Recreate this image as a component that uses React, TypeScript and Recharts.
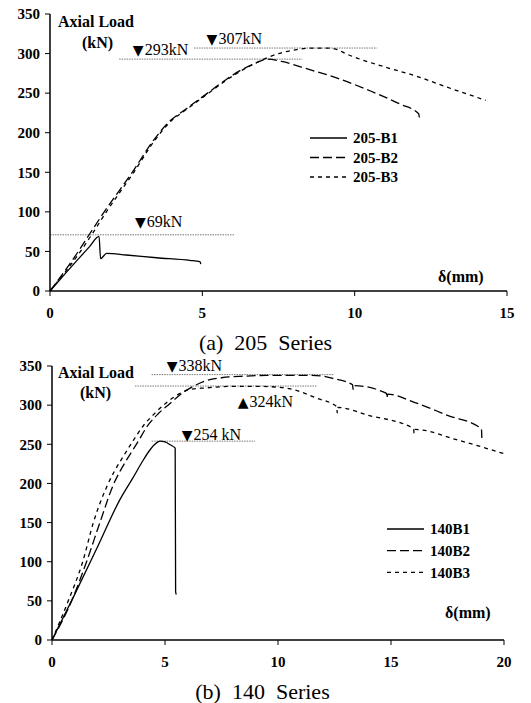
import { Legend, Line, LineChart, ReferenceDot, ReferenceLine, XAxis, YAxis } from 'recharts';

const FONT = '"Liberation Serif", "Times New Roman", serif';

const loadTicks = [0, 50, 100, 150, 200, 250, 300, 350];
const dispTicksA = [0, 5, 10, 15];
const dispTicksB = [0, 5, 10, 15, 20];

// (a) 205 series
const a1Disp = [0, 0.5, 1.0, 1.3, 1.61, 1.66, 1.86, 2.5, 3.5, 4.59, 4.92, 4.95];
const a1Load = [0, 22, 43.5, 56, 69, 41, 47.5, 45.5, 42, 38.7, 37, 34];
const a2Disp = [0, 0.93, 1.3, 1.78, 2.7, 3.41, 3.86, 4.5, 5.17, 5.7, 6.26, 6.7, 7.14, 7.6, 8.5, 9.5, 10.5, 11.5, 12.1, 12.13];
const a2Load = [0, 50, 72, 100, 150, 191, 212, 231, 250, 265, 279, 287, 293, 290, 280, 268, 253, 236, 224, 217];
const a3Disp = [0, 1.0, 1.4, 1.85, 2.75, 3.45, 3.9, 4.5, 5.17, 5.7, 6.26, 6.7, 7.14, 7.6, 8.1, 8.67, 9.1, 9.43, 9.7, 10.1, 11, 12.06, 13, 14.3];
const a3Load = [0, 50, 73, 100, 150, 191, 212, 230, 249, 264, 278, 287, 295, 301, 305, 307, 307, 305, 300, 294, 283, 271, 258, 241];

// (b) 140 series
const b1Disp = [0, 1, 2, 3, 3.6, 4.0, 4.34, 4.55, 4.78, 5.0, 5.25, 5.45, 5.47, 5.5];
const b1Load = [0, 58, 118, 179, 208, 228, 243, 250, 254, 253, 249, 245, 62, 58];
const b2Disp = [0, 0.87, 1.53, 2.12, 2.74, 3.0, 3.3, 3.8, 4.19, 4.7, 5.22, 5.7, 6.25, 6.8, 7.5, 8.5, 9.5, 10.5, 11.5, 12, 12.45, 13.3, 13.32, 13.35, 14.8, 14.82, 14.85, 16, 17.5, 19.0, 19.02];
const b2Load = [0, 50, 100, 150, 200, 215, 230, 253, 272, 289, 302, 314, 324, 331, 335, 337, 338, 338, 338, 337, 334, 326, 320, 325, 315, 309, 314, 304, 287, 270, 258];
const b3Disp = [0, 0.72, 1.36, 1.83, 2.49, 2.75, 3.1, 3.6, 4.05, 4.6, 5.1, 5.6, 6.1, 6.8, 8, 9, 10, 10.5, 11, 11.7, 12.6, 12.62, 12.65, 14, 16, 16.02, 16.05, 18, 20];
const b3Load = [0, 50, 100, 150, 200, 215, 232, 255, 274, 291, 304, 314, 320, 322, 324, 324, 323, 321, 317, 309, 298, 290, 297, 287, 270, 264, 269, 255, 238];

// peak guide lines: load, from, to
const peakLinesA = [
  { load: 293, from: 2.27, to: 8.28 },
  { load: 307, from: 4.73, to: 10.74 },
  { load: 71, from: 0, to: 6.04 },
];
const peakLinesB = [
  { load: 339, from: 4.41, to: 12.45 },
  { load: 324.4, from: 3.67, to: 11.7 },
  { load: 254, from: 4.41, to: 8.98 },
];

// peak notes: marker, text, anchor (disp, load)
const notesA = [
  { mark: '▼', text: '293kN', disp: 2.72, load: 297.6 },
  { mark: '▼', text: '307kN', disp: 5.14, load: 312 },
  { mark: '▼', text: '69kN', disp: 2.79, load: 81 },
];
const notesB = [
  { mark: '▼', text: '338kN', disp: 5.08, load: 343 },
  { mark: '▲', text: '324kN', disp: 8.22, load: 297.6 },
  { mark: '▼', text: '254 kN', disp: 5.74, load: 256 },
];

const toPts = (xs: number[], ys: number[]) => xs.map((d, i) => ({ d, load: ys[i] }));

const styles = [
  { dash: undefined as string | undefined },
  { dash: '9 4' },
  { dash: '4 4' },
];

const seriesA = [
  { name: '205-B1', data: toPts(a1Disp, a1Load) },
  { name: '205-B2', data: toPts(a2Disp, a2Load) },
  { name: '205-B3', data: toPts(a3Disp, a3Load) },
];
const seriesB = [
  { name: '140B1', data: toPts(b1Disp, b1Load) },
  { name: '140B2', data: toPts(b2Disp, b2Load) },
  { name: '140B3', data: toPts(b3Disp, b3Load) },
];

const noteLabel = (mark: string, text: string) => (props: any) => {
  const { x, y } = props.viewBox;
  return (
    <text x={x} y={y} fill="#000" fontFamily={FONT} fontSize={16}>
      <tspan fontFamily="DejaVu Sans" fontSize={14}>{mark}</tspan>
      <tspan dx={1}>{text}</tspan>
    </text>
  );
};

const legendContent = (names: string[], gap: number) => () => (
  <svg width={110} height={gap * 2 + 20}>
    {names.map((n, i) => (
      <g key={n}>
        <line x1={0} x2={37} y1={10 + i * gap} y2={10 + i * gap} stroke="#000" strokeWidth={1.3} strokeDasharray={styles[i].dash} />
        <text x={43} y={10 + i * gap} dy="0.35em" fontFamily={FONT} fontWeight="bold" fontSize={15} fill="#000">{n}</text>
      </g>
    ))}
  </svg>
);

const tickStyle = { fill: '#000', fontSize: 15, fontWeight: 'bold', fontFamily: FONT };
const axisLine = { stroke: '#000', strokeWidth: 1.5 };

const textAbs = (left: number, top: number, size: number, bold: boolean) => ({
  position: 'absolute' as const,
  left,
  top,
  fontSize: size,
  lineHeight: `${size}px`,
  fontWeight: bold ? 'bold' : 'normal',
  fontFamily: FONT,
  whiteSpace: 'pre' as const,
  color: '#000',
});

type PanelProps = {
  series: { name: string; data: { d: number; load: number }[] }[];
  ticks: number[];
  xMax: number;
  lines: { load: number; from: number; to: number }[];
  notes: { mark: string; text: string; disp: number; load: number }[];
  height: number;
  top: number;
  right: number;
  yWidth: number;
  legendPos: { left: number; top: number };
  legendGap: number;
};

function Panel({ series, ticks, xMax, lines, notes, height, top, right, yWidth, legendPos, legendGap }: PanelProps) {
  return (
    <LineChart width={531} height={height} margin={{ top, right, bottom: 0, left: 0 }}>
      <XAxis type="number" dataKey="d" domain={[0, xMax]} ticks={ticks} height={29} tickSize={5} tickMargin={11}
        tick={tickStyle} axisLine={axisLine} tickLine={{ stroke: '#000' }} />
      <YAxis type="number" dataKey="load" domain={[0, 350]} ticks={loadTicks} width={yWidth} tickSize={5} tickMargin={5}
        tick={tickStyle} axisLine={axisLine} tickLine={{ stroke: '#000' }} />
      {lines.map((l) => (
        <ReferenceLine key={l.load} segment={[{ x: l.from, y: l.load }, { x: l.to, y: l.load }]}
          stroke="#777" strokeWidth={1} strokeDasharray="1.5 1" ifOverflow="visible" />
      ))}
      {series.map((s, i) => (
        <Line key={s.name} name={s.name} data={s.data} dataKey="load" type="monotone" dot={false}
          stroke="#000" strokeWidth={1.3} strokeDasharray={styles[i].dash} isAnimationActive={false} />
      ))}
      {notes.map((n) => (
        <ReferenceDot key={n.text} x={n.disp} y={n.load} r={0} fill="none" stroke="none" ifOverflow="visible"
          label={noteLabel(n.mark, n.text)} />
      ))}
      <Legend layout="vertical" align="center" verticalAlign="middle"
        wrapperStyle={{ left: legendPos.left, top: legendPos.top, width: 'auto' }}
        content={legendContent(series.map((s) => s.name), legendGap)} />
    </LineChart>
  );
}

export default function App() {
  return (
    <div style={{ position: 'absolute', left: 0, top: 0, width: 531, height: 703, background: '#fff', overflow: 'hidden' }}>
      <div style={{ position: 'absolute', left: 0, top: 0 }}>
        <Panel series={seriesA} ticks={dispTicksA} xMax={15} lines={peakLinesA} notes={notesA}
          height={320} top={14} right={24} yWidth={50} legendPos={{ left: 310, top: 128 }} legendGap={19.5} />
      </div>
      <div style={{ position: 'absolute', left: 0, top: 350 }}>
        <Panel series={seriesB} ticks={dispTicksB} xMax={20} lines={peakLinesB} notes={notesB}
          height={319} top={16} right={27} yWidth={52} legendPos={{ left: 387, top: 169 }} legendGap={21.7} />
      </div>

      <div style={textAbs(58, 14, 16, true)}>Axial Load</div>
      <div style={textAbs(82, 35, 16, true)}>(kN)</div>
      <div style={textAbs(438, 269, 16, true)}>δ(mm)</div>
      <div style={{ ...textAbs(0, 332, 22, false), width: 531, textAlign: 'center' }}>(a)  205  Series</div>

      <div style={textAbs(58, 365, 16, true)}>Axial Load</div>
      <div style={textAbs(80, 385, 16, true)}>(kN)</div>
      <div style={textAbs(445, 605, 16, true)}>δ(mm)</div>
      <div style={{ ...textAbs(0, 681, 22, false), width: 525, textAlign: 'center' }}>(b)  140  Series</div>
    </div>
  );
}
